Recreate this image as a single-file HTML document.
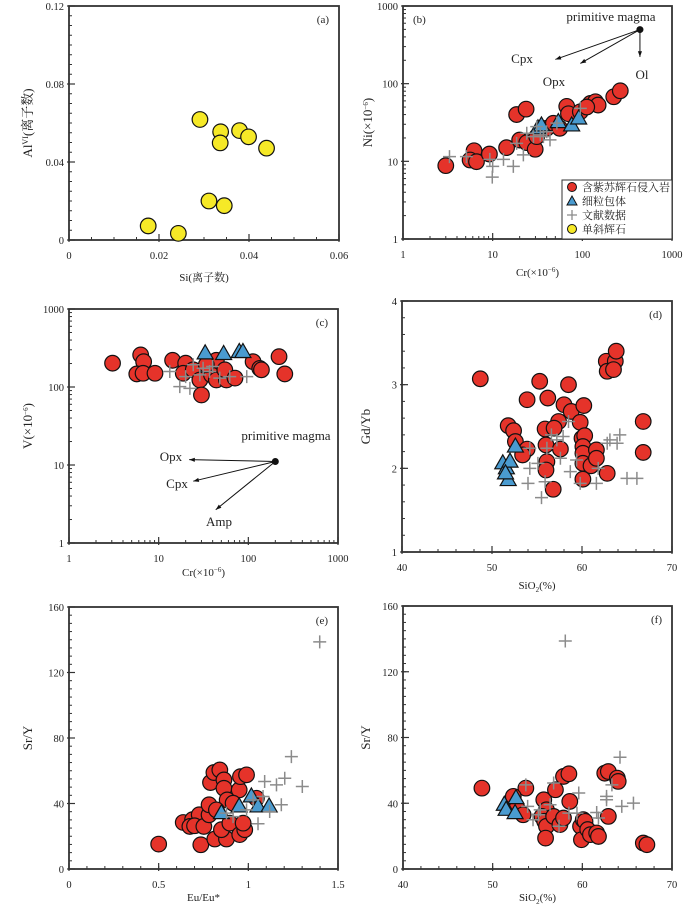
<!DOCTYPE html>
<html><head><meta charset="utf-8">
<style>
html,body{margin:0;padding:0;background:#fff;}
svg{display:block;}
text{font-family:"Liberation Serif","Noto Serif CJK SC","Noto Sans CJK SC",serif;fill:#222;}
</style></head>
<body>
<svg id="chart" width="700" height="906" viewBox="0 0 700 906" xmlns="http://www.w3.org/2000/svg"></svg>
<script>
// ---- Panel (a) data ----
const aCpxSi=[0.0176,0.0243,0.0291,0.0337,0.0336,0.0311,0.0345,0.0379,0.0399,0.0439];
const aCpxAl=[0.0072,0.0034,0.0618,0.0555,0.0498,0.0200,0.0176,0.0561,0.0529,0.0471];
const aXTicks=[0,0.02,0.04,0.06];
const aYTicks=[0,0.04,0.08,0.12];
// ---- Panel (b) data ----
const bRedCr=[3.0,6.2,5.6,6.6,9.2,14.3,18.5,23.6,20,24,29.8,31,40,47.5,56,67,70,95,123,140,150,224,265,112];
const bRedNi=[8.8,13.7,10.4,9.9,12.4,15.0,40,47,18.8,17.4,14.3,20.8,26.6,30.9,26.6,51,41,43.5,55.7,58.5,53,67.8,81,50];
const bTriCr=[32,35,54,76,91];
const bTriNi=[26.6,29,32,29,35.6];
const bPlusCr=[3.3,5.1,9.3,10,9.9,13.2,17,22,18.5,24,28.5,34,36.8,43.6,31,52,95,40];
const bPlusNi=[11.5,11.5,10.6,8.6,6.25,10.6,8.6,12.1,17,23,20.8,21.9,20.8,18.9,28,31,48,24];
const logTicks=[1,10,100,1000];
// ---- Panel (c) data ----
const cRedCr=[3.06,6.3,6.8,5.7,6.7,9.1,14.3,20,18.8,24.3,28.8,30,38.8,44,44,57,54.7,71,113,134,140,220,255,34];
const cRedV=[202,258,211,147,150,150,220,202,150,166,123,79,143,123,220,123,166,130,211,173,166,245,147,193];
const cTriCr=[33,53,79.2,87];
const cTriV=[270,265,281,281];
const cPlusCr=[13.3,17.2,22.3,20,28.8,31.3,37,48,62,96,24.3,40];
const cPlusV=[158,101,96,136,143,174,158,130,136,136,193,183];
// ---- Panel (d) data ----
const dRedSi=[48.7,55.3,53.9,56.2,58.5,58.0,58.8,60.2,51.8,52.4,52.6,53.9,53.4,55.9,57.4,56.9,56.0,56.1,56.0,57.6,56.8,59.8,60.0,60.3,60.1,60.1,60.1,60.1,61.0,61.6,61.6,62.8,62.7,62.8,63.7,63.8,63.5,66.8,66.8];
const dRedGd=[3.07,3.04,2.82,2.84,3.00,2.76,2.68,2.75,2.51,2.45,2.32,2.23,2.16,2.47,2.56,2.48,2.28,2.08,1.98,2.23,1.75,2.55,2.36,2.39,2.26,2.18,2.06,1.87,2.03,2.22,2.12,1.94,3.28,3.16,3.28,3.40,3.18,2.56,2.19];
const dTriSi=[51.2,51.6,52.0,51.8,51.5,52.6];
const dTriGd=[2.06,2.00,2.08,1.86,1.94,2.26];
const dPlusSi=[54.0,55.5,55.9,54.2,55.1,56.1,56.6,57.2,57.9,58.5,57.6,58.7,59.8,59.4,61.6,61.8,62.8,63.9,64.2,65.0,66.1,54.2,63.1];
const dPlusGd=[1.82,1.65,1.84,2.00,2.06,2.24,2.40,2.34,2.38,2.56,2.12,1.96,1.82,2.10,1.82,2.00,2.30,2.30,2.40,1.88,1.88,2.24,2.34];
const dXTicks=[40,50,60,70];
const dYTicks=[1,2,3,4];
// ---- Panel (e) data ----
const eRedEu=[0.50,0.735,0.637,0.689,0.674,0.726,0.70,0.752,0.781,0.781,0.789,0.808,0.841,0.864,0.864,0.882,0.822,0.813,0.878,0.85,0.897,0.949,0.956,0.99,0.952,0.98,0.971,1.045,0.915];
const eRedSrY=[15.2,14.8,28.4,30.1,26,33.1,26.4,26,33.1,39.2,52.8,58.9,60.5,54.4,49.3,42.2,36.1,18.3,18.3,24,28,48.3,56.4,57.5,21,24,28,43.2,40.2];
const eTriEu=[0.85,0.949,1.017,1.054,1.116];
const eTriSrY=[34.1,38.2,44.3,38.2,38.2];
const ePlusEu=[1.091,1.157,1.203,1.24,1.301,1.184,1.119,1.054,0.99,1.082,1.027,1.398,0.915,0.878];
const ePlusSrY=[53.4,51.4,55.4,68.6,50.4,39.2,35.1,27.6,36.1,44.3,42.2,138.7,32,34.1];
const eXTicks=[0,0.5,1,1.5];
const srYTicks=[0,40,80,120,160];
// ---- Panel (f) data ----
const fRedSi=[48.8,53.7,52.3,52.7,53.4,55.7,56.0,55.5,55.8,56.0,55.9,57.0,57.9,58.5,58.6,56.8,57.5,57.9,59.8,59.9,60.1,60.3,60.6,60.9,61.6,61.8,62.5,62.9,63.9,64.0,62.9,66.8,67.2];
const fRedSrY=[49.2,49.2,44.2,37.1,33,42.1,36,32,29,26,18.8,48.2,56.3,57.9,41.1,32,27,31,26,17.8,30,29,24,20.9,21.9,19.8,58.3,59.3,55.3,53.3,32,15.8,14.8];
const fTriSi=[51.3,51.5,52.6,52.5];
const fTriSrY=[39.1,36,43.1,34];
const fPlusSi=[53.7,53.9,54.5,55.3,56.4,56.8,57.4,58.1,58.5,59.6,59.4,61.6,61.8,62.7,62.7,63.3,64.2,64.4,65.7,55.1];
const fPlusSrY=[51.2,38.1,30,36,39.1,52.3,26,138.7,34,46.2,34,34.4,31,44.2,42.1,51.2,68,38.1,40.1,33];

const NS='http://www.w3.org/2000/svg';
const svg=document.getElementById('chart');
function mk(tag,attrs,parent){const e=document.createElementNS(NS,tag);for(const k in attrs)e.setAttribute(k,attrs[k]);(parent||svg).appendChild(e);return e;}

function makeScale(d0,d1,r0,r1,log){
  if(log){const a=Math.log10(d0),b=Math.log10(d1);return v=>r0+(Math.log10(v)-a)/(b-a)*(r1-r0);}
  return v=>r0+(v-d0)/(d1-d0)*(r1-r0);
}

function panel(p){
  const g=mk('g',{});
  
  
  const sx=makeScale(p.x0,p.x1,p.L,p.R,p.xlog), sy=makeScale(p.y0,p.y1,p.B,p.T,p.ylog);
  p.sx=sx;p.sy=sy;
  const fr=mk('rect',{x:p.L,y:p.T,width:p.R-p.L,height:p.B-p.T,fill:'none',stroke:'#333','stroke-width':1.8},g);
  
  
  const minorX=[],minorY=[];
  if(p.xlog){for(let d=p.x0;d<p.x1;d*=10)for(let k=2;k<10;k++)minorX.push(d*k);} else {for(let v=p.x0;v<=p.x1+1e-9;v+=p.xm)minorX.push(v);}
  if(p.ylog){for(let d=p.y0;d<p.y1;d*=10)for(let k=2;k<10;k++)minorY.push(d*k);} else {for(let v=p.y0;v<=p.y1+1e-9;v+=p.ym)minorY.push(v);}
  minorX.forEach(v=>mk('line',{x1:sx(v),x2:sx(v),y1:p.B,y2:p.B-3,stroke:'#333','stroke-width':1},g));
  minorY.forEach(v=>mk('line',{x1:p.L,x2:p.L+3,y1:sy(v),y2:sy(v),stroke:'#333','stroke-width':1},g));
  p.xt.forEach(v=>{mk('line',{x1:sx(v),x2:sx(v),y1:p.B+2,y2:p.B-6,stroke:'#333','stroke-width':1.2},g);
    const t=mk('text',{x:sx(v),y:p.B+19,'font-size':10.5,'text-anchor':'middle'},g);t.textContent=String(v);
    });
  p.yt.forEach(v=>{mk('line',{x1:p.L-2,x2:p.L+6,y1:sy(v),y2:sy(v),stroke:'#333','stroke-width':1.2},g);
    const t=mk('text',{x:p.L-5,y:sy(v)+4,'font-size':10.5,'text-anchor':'end'},g);t.textContent=String(v);
    });
  const xt=mk('text',{x:(p.L+p.R)/2,y:p.xly,'font-size':11,'text-anchor':'middle'},g);xt.innerHTML=p.xlab;
  
  const yt=mk('text',{x:p.ylx,y:(p.T+p.B)/2,'font-size':13,'text-anchor':'middle',transform:`rotate(-90 ${p.ylx} ${(p.T+p.B)/2})`},g);yt.innerHTML=p.ylab;
  
  const pl=p.labLeft?mk('text',{x:p.L+10,y:p.T+17,'font-size':11,'text-anchor':'start'},g):mk('text',{x:p.R-10,y:p.T+17,'font-size':11,'text-anchor':'end'},g);
  pl.textContent='('+p.id+')';
  
  (p.red||[]).length&&drawSeries(g,p,p.red[0],p.red[1],'circle','#e5332a','intrusion-point');
  (p.yel||[]).length&&drawSeries(g,p,p.yel[0],p.yel[1],'circle','#f6e927','cpx-point');
  (p.tri||[]).length&&drawSeries(g,p,p.tri[0],p.tri[1],'tri','#4a9bd0','enclave-point');
  (p.plus||[]).length&&drawSeries(g,p,p.plus[0],p.plus[1],'plus','#8b8b8b','literature-point');
  return g;
}
function drawSeries(g,p,xs,ys,shape,color,name){
  const sg=mk('g',{},g);
  
  
  xs.forEach((xv,i)=>{
    const x=p.sx(xv),y=p.sy(ys[i]);let e;
    if(shape==='circle')e=mk('circle',{cx:x,cy:y,r:7.8,fill:color,stroke:'#111','stroke-width':1.2},sg);
    else if(shape==='tri')e=mk('polygon',{points:`${x},${y-8.5} ${x-8},${y+5.5} ${x+8},${y+5.5}`,fill:color,stroke:'#111','stroke-width':1.2},sg);
    else e=mk('path',{d:`M${x-6.5},${y}H${x+6.5}M${x},${y-6.5}V${y+6.5}`,stroke:color,'stroke-width':1.5,fill:'none'},sg);
    
    
  });
}
function arrow(g,x1,y1,x2,y2){
  const l=mk('line',{x1,y1,x2,y2,stroke:'#111','stroke-width':1},g);
  
  const a=Math.atan2(y2-y1,x2-x1),s=6;
  mk('polygon',{points:`${x2},${y2} ${x2-s*Math.cos(a-0.35)},${y2-s*Math.sin(a-0.35)} ${x2-s*Math.cos(a+0.35)},${y2-s*Math.sin(a+0.35)}`,fill:'#111'},g);
}
function label(g,x,y,txt,size,anchor,name){const t=mk('text',{x,y,'font-size':size,'text-anchor':anchor||'middle'},g);t.textContent=txt;
  return t;}

const six='(×10<tspan dy="-4" font-size="7">−6</tspan><tspan dy="4">)</tspan>';
const sio2='SiO<tspan dy="3" font-size="7">2</tspan><tspan dy="-3">(%)</tspan>';

panel({id:'a',L:69,R:339,T:6,B:240,x0:0,x1:0.06,y0:0,y1:0.12,xm:0.005,ym:0.005,xt:aXTicks,yt:aYTicks,
  xlab:'Si(离子数)',ylab:'Al<tspan dy="-4" font-size="8">VI</tspan><tspan dy="4">(离子数)</tspan>',xly:281,ylx:32,yel:[aCpxSi,aCpxAl]});

const pb=panel({id:'b',labLeft:true,L:403,R:672,T:6,B:239,x0:1,x1:1000,y0:1,y1:1000,xlog:true,ylog:true,xt:logTicks,yt:logTicks,
  xlab:'Cr'+six,ylab:'Ni'+six,xly:276,ylx:372,red:[bRedCr,bRedNi],tri:[bTriCr,bTriNi],plus:[bPlusCr,bPlusNi]});
(function(){const p={sx:makeScale(1,1000,403,672,true),sy:makeScale(1,1000,239,6,true)};
  const mx=p.sx(439),my=p.sy(497);
  arrow(pb,mx,my,p.sx(50),p.sy(205));arrow(pb,mx,my,p.sx(95),p.sy(182));arrow(pb,mx,my,mx,p.sy(221));
  const c=mk('circle',{cx:mx,cy:my,r:3.5,fill:'#111'},pb);
  label(pb,611,21,'primitive magma',13,'middle','primitive-magma-label');
  label(pb,522,63,'Cpx',13,'middle','cpx-label');label(pb,554,86,'Opx',13,'middle','opx-label');label(pb,642,79,'Ol',13,'middle','ol-label');
  const lg=mk('g',{},pb);
  mk('rect',{x:562,y:180,width:110,height:59,fill:'#fff',stroke:'#333','stroke-width':1},lg);
  const items=[['circle','#e5332a','含紫苏辉石侵入岩'],['tri','#4a9bd0','细粒包体'],['plus','#8b8b8b','文献数据'],['circle','#f6e927','单斜辉石']];
  items.forEach((it,i)=>{const y=187+i*14;let e;
    if(it[0]==='circle')e=mk('circle',{cx:572,cy:y,r:4.5,fill:it[1],stroke:'#111','stroke-width':1},lg);
    else if(it[0]==='tri')e=mk('polygon',{points:`572,${y-5} 567,${y+4} 577,${y+4}`,fill:it[1],stroke:'#111','stroke-width':1},lg);
    else e=mk('path',{d:`M567,${y}H577M572,${y-5}V${y+5}`,stroke:it[1],'stroke-width':1.3},lg);
    
    const t=label(lg,582,y+4,it[2],11,'start','legend-entry');t.style.fontFamily='"Noto Serif CJK SC","Noto Sans CJK SC",serif';});
})();

const pc=panel({id:'c',L:69,R:338,T:309,B:543,x0:1,x1:1000,y0:1,y1:1000,xlog:true,ylog:true,xt:logTicks,yt:logTicks,
  xlab:'Cr'+six,ylab:'V'+six,xly:576,ylx:32,red:[cRedCr,cRedV],tri:[cTriCr,cTriV],plus:[cPlusCr,cPlusV]});
(function(){const sx=makeScale(1,1000,69,338,true),sy=makeScale(1,1000,543,309,true);
  const mx=sx(200),my=sy(11.1);
  arrow(pc,mx,my,sx(21.9),sy(11.7));arrow(pc,mx,my,sx(24.3),sy(6.2));arrow(pc,mx,my,sx(43.3),sy(2.67));
  const c=mk('circle',{cx:mx,cy:my,r:3.5,fill:'#111'},pc);
  label(pc,286,440,'primitive magma',13,'middle','primitive-magma-label');
  label(pc,171,461,'Opx',13,'middle','opx-label');label(pc,177,488,'Cpx',13,'middle','cpx-label');label(pc,219,526,'Amp',13,'middle','amp-label');
})();

panel({id:'d',L:402,R:672,T:301,B:552,x0:40,x1:70,y0:1,y1:4,xm:2,ym:0.2,xt:dXTicks,yt:dYTicks,
  xlab:sio2,ylab:'Gd/Yb',xly:589,ylx:370,red:[dRedSi,dRedGd],tri:[dTriSi,dTriGd],plus:[dPlusSi,dPlusGd]});

panel({id:'e',L:69,R:338,T:607,B:869,x0:0,x1:1.5,y0:0,y1:160,xm:0.1,ym:5,xt:eXTicks,yt:srYTicks,
  xlab:'Eu/Eu*',ylab:'Sr/Y',xly:901,ylx:32,red:[eRedEu,eRedSrY],tri:[eTriEu,eTriSrY],plus:[ePlusEu,ePlusSrY]});

panel({id:'f',L:403,R:672,T:606,B:869,x0:40,x1:70,y0:0,y1:160,xm:2,ym:5,xt:dXTicks,yt:srYTicks,
  xlab:sio2,ylab:'Sr/Y',xly:901,ylx:370,red:[fRedSi,fRedSrY],tri:[fTriSi,fTriSrY],plus:[fPlusSi,fPlusSrY]});
</script>
</body></html>
